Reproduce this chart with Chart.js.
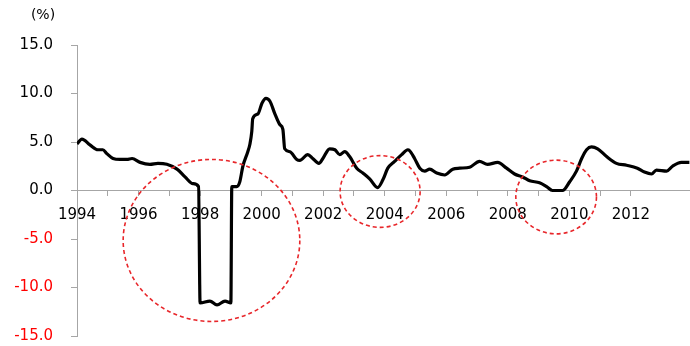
<!DOCTYPE html>
<html>
<head>
<meta charset="utf-8">
<script src="https://cdn.jsdelivr.net/npm/chart.js@4"></script>
<style>
  html, body { margin: 0; padding: 0; background: #fff; overflow: hidden; width: 690px; height: 346px; }
  #chart { display: block; }
</style>
</head>
<body>
<canvas id="chart" width="701" height="363"></canvas>
<script>
// time (decimal year) and rate (%)
const years = [
  1994.00, 1994.16, 1994.42, 1994.68, 1994.84, 1994.97, 1995.17, 1995.40, 1995.62, 1995.79,
  1996.05, 1996.37, 1996.63, 1996.92, 1997.25, 1997.51, 1997.77, 1997.95,
  1998.00, 1998.32, 1998.55, 1998.81, 1999.00,
  1999.03, 1999.19, 1999.29, 1999.39, 1999.55, 1999.62, 1999.68, 1999.71, 1999.88,
  2000.01, 2000.14, 2000.27, 2000.43, 2000.59, 2000.69, 2000.75, 2000.92,
  2001.14, 2001.24, 2001.50, 2001.66, 2001.86, 2001.99,
  2002.21, 2002.38, 2002.54, 2002.70, 2002.86,
  2003.09, 2003.29, 2003.51, 2003.77, 2003.94,
  2004.10, 2004.32, 2004.55, 2004.75, 2004.81, 2004.97,
  2005.14, 2005.30, 2005.46, 2005.69, 2005.95,
  2006.21, 2006.44, 2006.76, 2007.08, 2007.34, 2007.67, 2007.96,
  2008.22, 2008.48, 2008.71, 2009.03, 2009.26, 2009.45, 2009.78,
  2010.01, 2010.23, 2010.40, 2010.56, 2010.72, 2010.92,
  2011.21, 2011.53, 2011.86, 2012.21, 2012.44, 2012.67, 2012.83,
  2013.16, 2013.35, 2013.64, 2013.90
];
const rates = [
  4.8, 5.3, 4.7, 4.2, 4.2, 3.8, 3.3, 3.2, 3.2, 3.3,
  2.9, 2.7, 2.8, 2.7, 2.2, 1.4, 0.7, 0.4,
  -11.6, -11.4, -11.8, -11.4, -11.6,
  0.4, 0.4, 0.9, 2.5, 4.0, 4.8, 6.1, 7.4, 7.9,
  9.0, 9.5, 9.2, 7.9, 6.8, 6.3, 4.3, 4.0,
  3.2, 3.1, 3.7, 3.3, 2.8, 3.3,
  4.3, 4.2, 3.7, 4.0, 3.5,
  2.3, 1.8, 1.2, 0.3, 1.1,
  2.3, 3.0, 3.7, 4.2, 4.1, 3.3,
  2.3, 2.0, 2.2, 1.8, 1.6,
  2.2, 2.3, 2.4, 3.0, 2.7, 2.9, 2.3,
  1.7, 1.4, 1.0, 0.8, 0.4, 0.0, 0.0,
  0.9, 2.0, 3.3, 4.2, 4.5, 4.3,
  3.5, 2.8, 2.6, 2.3, 1.9, 1.7, 2.1,
  2.0, 2.5, 2.9, 2.9
];

// y axis ticks
const yTicks = [-15, -10, -5, 0, 5, 10, 15];

// dashed rings: centre year, centre %, half width (years), half height (%)
const ringYear = [1998.37, 2003.85, 2009.57];
const ringRate = [-5.15, -0.1, -0.67];
const ringHalfW = [2.87, 1.30, 1.31];
const ringHalfH = [8.35, 3.7, 3.8];

const RED = '#ff0000';
const AXIS = '#a6a6a6';
const FONT = "'DejaVu Sans', sans-serif";

const ringsPlugin = {
    id: 'rings',
    afterDatasetsDraw(chart) {
        const { ctx, scales: { x, y } } = chart;
        ctx.save();
        ctx.strokeStyle = '#e8262a';
        ctx.lineWidth = 1.6;
        ctx.setLineDash([4, 3]);
        for (let i = 0; i < ringYear.length; i++) {
            const cx = x.getPixelForValue(ringYear[i]);
            const cy = y.getPixelForValue(ringRate[i]);
            const rx = Math.abs(x.getPixelForValue(ringYear[i] + ringHalfW[i]) - cx);
            const ry = Math.abs(y.getPixelForValue(ringRate[i] + ringHalfH[i]) - cy);
            ctx.beginPath();
            ctx.ellipse(cx, cy, rx, ry, 0, 0, Math.PI * 2);
            ctx.stroke();
        }
        ctx.restore();
    }
};

// "(%)" unit label
const unitPlugin = {
    id: 'unit',
    afterDraw(chart) {
        const ctx = chart.ctx;
        ctx.save();
        ctx.font = '14px ' + FONT;
        ctx.fillStyle = '#000';
        ctx.textAlign = 'center';
        ctx.textBaseline = 'middle';
        ctx.fillText('(%)', 43, 15);
        ctx.restore();
    }
};

new Chart(document.getElementById('chart'), {
    type: 'line',
    data: {
        datasets: [{
            data: years.map((t, i) => ({ x: t, y: rates[i] })),
            borderColor: '#000',
            borderWidth: 3.2,
            pointRadius: 0,
            fill: false,
            cubicInterpolationMode: 'monotone'
        }]
    },
    options: {
        responsive: false,
        animation: false,
        devicePixelRatio: 1,
        layout: { padding: { top: 45, right: 0, bottom: 11, left: 0 } },
        plugins: {
            legend: { display: false },
            tooltip: { enabled: false }
        },
        scales: {
            x: {
                type: 'linear',
                position: { y: 0 },
                min: 1994,
                max: 2013.92,
                border: { color: AXIS, width: 1 },
                grid: { drawOnChartArea: false, drawTicks: true, tickLength: 5, color: AXIS },
                ticks: {
                    stepSize: 1,
                    autoSkip: false,
                    maxRotation: 0,
                    padding: 11,
                    color: '#000',
                    font: { family: FONT, size: 15 },
                    callback: v => (Number.isInteger(v) && v % 2 === 0) ? String(v) : ''
                }
            },
            y: {
                min: -15,
                max: 15,
                afterFit(scale) { scale.width = 77; },
                afterBuildTicks(scale) { scale.ticks = yTicks.map(v => ({ value: v })); },
                border: { color: AXIS, width: 1 },
                grid: { drawOnChartArea: false, drawTicks: true, tickLength: 6, color: AXIS },
                ticks: {
                    padding: 18,
                    color: c => c.tick.value < 0 ? RED : '#000',
                    font: { family: FONT, size: 15 },
                    callback: v => v.toFixed(1)
                }
            }
        }
    },
    plugins: [ringsPlugin, unitPlugin]
});
</script>
</body>
</html>
